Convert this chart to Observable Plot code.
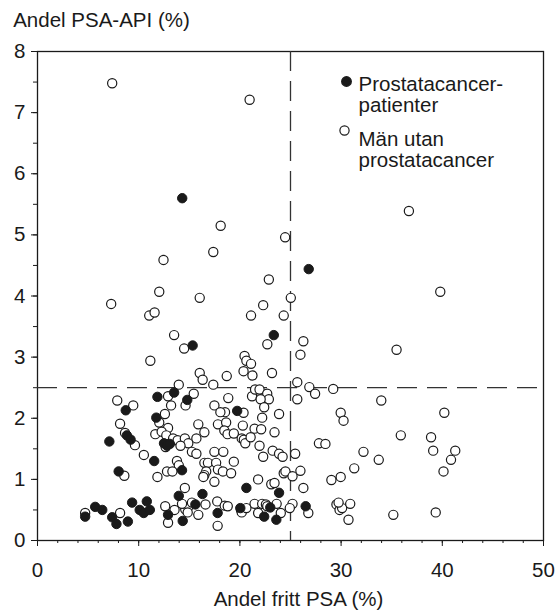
<!DOCTYPE html>
<html>
<head>
<meta charset="utf-8">
<script src="https://cdn.jsdelivr.net/npm/d3@7"></script>
<script src="https://cdn.jsdelivr.net/npm/@observablehq/plot@0.6"></script>
<style>
  html, body { margin: 0; padding: 0; background: #fff; }
  #chart { width: 557px; height: 610px; }
</style>
</head>
<body>
<div id="chart"></div>
<script>
// Prostatacancer-patienter (filled)
const cancerX = [14.3, 26.8, 23.35, 15.33, 13.5, 11.85, 14.8, 8.72, 19.73, 11.74,
  7.1, 8.83, 9.2, 12.5, 12.8, 13.08, 11.53, 8.02, 14.28, 20.64,
  13.96, 16.3, 23.87, 9.35, 10.8, 10.1, 10.5, 11.1, 5.7, 6.4,
  4.71, 7.38, 7.8, 8.93, 12.9, 14.35, 15.6, 17.8, 20.04, 22.4,
  23.0, 23.6, 26.5];
const cancerY = [5.6, 4.44, 3.36, 3.19, 2.42, 2.35, 2.3, 2.13, 2.12, 2.01,
  1.62, 1.72, 1.65, 1.59, 1.55, 1.58, 1.3, 1.13, 1.15, 0.86,
  0.73, 0.76, 0.78, 0.62, 0.64, 0.5, 0.45, 0.5, 0.55, 0.5,
  0.39, 0.38, 0.27, 0.31, 0.42, 0.32, 0.59, 0.45, 0.53, 0.39,
  0.54, 0.34, 0.56];

// Män utan prostatacancer (open)
const healthyX = [7.38, 20.96, 36.7, 18.1, 24.47, 17.37, 12.45, 22.86, 12.03, 39.8,
  16.03, 25.03, 7.28, 22.3, 11.04, 11.57, 21.1, 24.33, 13.5, 14.49,
  22.71, 26.27, 35.48, 25.98, 11.15, 20.46, 20.64, 21.1, 20.36, 21.24,
  23.17, 16.03, 16.32, 18.7, 17.37, 13.96, 25.67, 26.86, 27.43, 29.22,
  7.88, 9.46, 15.44, 12.9, 13.2, 14.63, 18.85, 21.2, 21.5, 21.94,
  22.7, 22.86, 22.05, 22.4, 25.67, 33.97, 17.48, 12.59, 18.53, 20.36,
  22.2, 23.87, 29.96, 40.2, 18.07,
  8.16, 12.03, 12.9, 15.89, 17.83, 18.64, 20.29, 30.24, 8.65, 11.64,
  12.27, 12.73, 15.7, 16.49, 18.46, 18.78, 19.4, 20.18, 21.45, 22.1,
  23.42, 13.4, 13.85, 14.56, 14.9, 35.9, 38.89, 20.39, 20.53, 21.06,
  9.63, 12.66, 14.13, 27.81, 28.45, 21.94,
  10.51, 15.26, 15.7, 17.48, 18.36, 23.24, 23.87, 24.22, 25.46, 32.21,
  41.28, 22.3, 39.1, 33.72, 40.86, 13.78, 13.96, 16.49, 16.84, 17.65,
  19.4, 31.3, 11.85, 12.8, 13.33, 16.67, 16.49, 16.39, 17.83, 18.32,
  19.13, 21.8, 24.33, 24.5, 25.98, 25.2, 8.58, 40.12, 29.96, 29.04,
  17.48, 14.56, 23.1, 23.42, 26.27, 8.16, 12.62, 13.54, 14.6, 14.9,
  15.26, 14.28, 16.6, 17.76, 18.5, 18.8, 20.11, 20.18, 20.64, 21.45,
  22.2, 22.57, 22.7, 23.63, 25.2, 24.93, 21.8, 24.04, 15.89, 12.9,
  17.8, 26.76, 29.54, 29.85, 30.1, 30.9, 30.73, 29.75, 35.16, 39.35,
  4.71, 14.84];
const healthyY = [7.48, 7.21, 5.39, 5.15, 4.96, 4.72, 4.59, 4.27, 4.07, 4.07,
  3.97, 3.97, 3.87, 3.85, 3.68, 3.73, 3.68, 3.68, 3.36, 3.14,
  3.21, 3.26, 3.12, 3.04, 2.94, 3.02, 2.94, 2.89, 2.77, 2.7,
  2.74, 2.74, 2.63, 2.69, 2.55, 2.55, 2.59, 2.51, 2.4, 2.48,
  2.29, 2.21, 2.4, 2.36, 2.21, 2.21, 2.33, 2.36, 2.47, 2.47,
  2.4, 2.31, 2.31, 2.18, 2.31, 2.29, 2.21, 2.07, 2.1, 2.09,
  2.01, 2.07, 2.09, 2.09, 2.1,
  1.91, 1.93, 1.84, 1.9, 1.9, 1.93, 1.88, 1.96, 1.76, 1.74,
  1.78, 1.72, 1.67, 1.77, 1.8, 1.74, 1.75, 1.67, 1.83, 1.82,
  1.77, 1.67, 1.64, 1.67, 1.59, 1.72, 1.69, 1.65, 1.59, 1.69,
  1.56, 1.53, 1.55, 1.59, 1.58, 1.55,
  1.4, 1.45, 1.42, 1.45, 1.45, 1.47, 1.42, 1.37, 1.42, 1.45,
  1.47, 1.37, 1.47, 1.32, 1.32, 1.3, 1.23, 1.27, 1.27, 1.27,
  1.29, 1.18, 1.04, 1.13, 1.13, 1.13, 1.07, 1.04, 1.16, 1.13,
  1.1, 1.0, 1.1, 1.13, 1.14, 1.05, 1.06, 1.13, 1.04, 0.99,
  0.96, 0.86, 0.92, 0.94, 0.86, 0.45, 0.56, 0.5, 0.51, 0.55,
  0.62, 0.6, 0.59, 0.64, 0.57, 0.56, 0.5, 0.46, 0.53, 0.6,
  0.6, 0.59, 0.56, 0.6, 0.6, 0.53, 0.45, 0.45, 0.42, 0.29,
  0.24, 0.45, 0.59, 0.5, 0.53, 0.6, 0.34, 0.62, 0.42, 0.46,
  0.45, 0.46];

const xTicks = [0, 10, 20, 30, 40, 50];
const yTicks = [0, 1, 2, 3, 4, 5, 6, 7, 8];
const xMinor = d3.range(0, 50.01, 2);
const yMinor = d3.range(0, 8.01, 0.5);
const cutX = [25];
const cutY = [2.5];

const labels = {
  yTitle: "Andel PSA-API (%)",
  xTitle: "Andel fritt PSA (%)",
  cancer: "Prostatacancer-\npatienter",
  healthy: "Män utan\nprostatacancer"
};

const cancer = cancerX.map((x, i) => ({x, y: cancerY[i]}));
const healthy = healthyX.map((x, i) => ({x, y: healthyY[i]}));

const FONT = "'Liberation Sans', Arial, Helvetica, sans-serif";
const FS = 20.5;
const INK = "#1a1a1a";

const chart = Plot.plot({
  width: 557,
  height: 610,
  marginTop: 51,
  marginLeft: 37,
  marginRight: 14,
  marginBottom: 70,
  style: {fontFamily: FONT, fontSize: FS + "px", color: INK, background: "white"},
  x: {domain: [0, 50]},
  y: {domain: [0, 8]},
  marks: [
    Plot.frame({stroke: INK, strokeWidth: 1.3}),
    Plot.axisX({ticks: xMinor, tickSize: 3, text: null, label: null, stroke: INK}),
    Plot.axisX({ticks: xTicks, tickSize: 6, tickPadding: 16, label: null, stroke: INK, fontSize: FS}),
    Plot.axisY({ticks: yMinor, tickSize: 4, text: null, label: null, stroke: INK}),
    Plot.axisY({ticks: yTicks, tickSize: 6, tickPadding: 6, label: null, stroke: INK, fontSize: FS}),
    Plot.ruleX(cutX, {stroke: "#333", strokeWidth: 1.3, strokeDasharray: "20,10"}),
    Plot.ruleY(cutY, {stroke: "#333", strokeWidth: 1.3, strokeDasharray: "20,10"}),
    Plot.dot(healthy, {x: "x", y: "y", r: 4.6, fill: "white", stroke: INK, strokeWidth: 1.2}),
    Plot.dot(cancer, {x: "x", y: "y", r: 4.7, fill: INK, stroke: INK, strokeWidth: 1}),
    // titles
    Plot.text([labels.yTitle], {frameAnchor: "top-left", text: d => d, textAnchor: "start", lineAnchor: "top", dx: -24.3, dy: -39, fontSize: FS, fill: INK}),
    Plot.text([labels.xTitle], {frameAnchor: "bottom", text: d => d, lineAnchor: "top", dx: 8, dy: 50.5, fontSize: FS, fill: INK}),
    // legend
    Plot.dot([labels.cancer], {frameAnchor: "top-left", dx: 309, dy: 30, r: 4.7, fill: INK, stroke: INK}),
    Plot.text([labels.cancer], {frameAnchor: "top-left", text: d => d, textAnchor: "start", lineAnchor: "top", lineHeight: 1.03, dx: 321, dy: 24, fontSize: FS, fill: INK}),
    Plot.dot([labels.healthy], {frameAnchor: "top-left", dx: 307, dy: 79, r: 4.6, fill: "white", stroke: INK, strokeWidth: 1.2}),
    Plot.text([labels.healthy], {frameAnchor: "top-left", text: d => d, textAnchor: "start", lineAnchor: "top", lineHeight: 1.03, dx: 321, dy: 79, fontSize: FS, fill: INK})
  ]
});
document.getElementById("chart").appendChild(chart);
</script>
</body>
</html>
